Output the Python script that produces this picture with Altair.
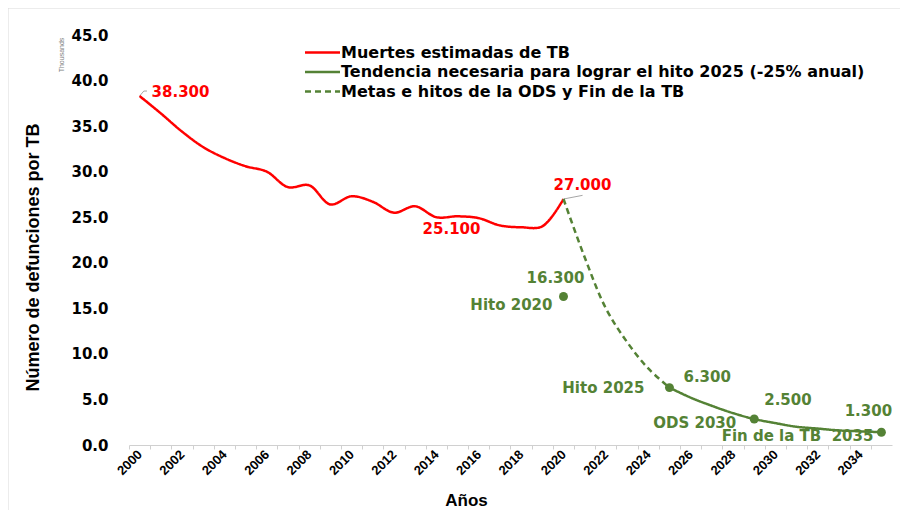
import altair as alt
import pandas as pd

# ---------------- data ----------------
est_years = list(range(2000, 2021))
est_deaths = [38.3, 36.4, 34.4, 32.7, 31.5, 30.6, 30.0, 28.3, 28.5, 26.4, 27.3,
              26.7, 25.5, 26.2, 25.0, 25.1, 24.9, 24.1, 23.9, 24.0, 27.0]

dash_years = list(range(2020, 2026))
dash_deaths = [27.0, 20.6, 15.0, 11.3, 8.4, 6.3]

trend_years = list(range(2025, 2036))
trend_deaths = [6.3, 5.2, 4.3, 3.5, 2.85, 2.4, 2.0, 1.8, 1.6, 1.5, 1.4]

mil_years = [2020, 2025, 2029, 2035]
mil_values = [16.3, 6.3, 2.85, 1.4]

series_names = [
    "Muertes estimadas de TB",
    "Tendencia necesaria para lograr el hito 2025 (-25% anual)",
    "Metas e hitos de la ODS y Fin de la TB",
]

ann_texts = ["38.300", "25.100", "27.000", "16.300", "Hito 2020", "Hito 2025",
             "6.300", "2.500", "ODS 2030", "Fin de la TB\u00a0 2035", "1.300"]
ann_years = [2000, 2015, 2020, 2020, 2020, 2025, 2025, 2029, 2029, 2035, 2035]
ann_values = [38.3, 25.1, 27.0, 16.3, 16.3, 6.3, 6.3, 2.85, 2.85, 1.4, 1.4]

leader_id = ["a", "a", "a", "b", "b"]
leader_years = [2000, 2000.2, 2000.35, 2020, 2020.9]
leader_values = [38.3, 38.85, 38.85, 27.0, 27.4]

y_ticks = [0, 5, 10, 15, 20, 25, 30, 35, 40, 45]
x_ticks = list(range(2000, 2036))

# ---------------- styles ----------------
RED = "#FF0000"
GREEN = "#548235"
NARROW = "Liberation Sans"
WIDE = "DejaVu Sans"

W, H = 763, 410
step = W / 36.0

lines_df = pd.concat([
    pd.DataFrame({"year": est_years, "deaths": est_deaths, "serie": series_names[0]}),
    pd.DataFrame({"year": trend_years, "deaths": trend_deaths, "serie": series_names[1]}),
    pd.DataFrame({"year": dash_years, "deaths": dash_deaths, "serie": series_names[2]}),
], ignore_index=True)

x_enc = alt.X(
    "year:Q",
    scale=alt.Scale(domain=[1999.5, 2035.5], nice=False, zero=False),
    axis=alt.Axis(
        values=x_ticks, format="d",
        labelExpr="datum.value % 2 === 0 ? datum.label : ''",
        labelAngle=-45, labelAlign="right", labelBaseline="middle",
        labelFont=NARROW, labelFontSize=13, labelFontWeight="bold", labelColor="#000000",
        labelOverlap=False, labelBound=False, labelPadding=3,
        tickOffset=-step / 2, labelOffset=step / 2, tickSize=4,
        tickColor="#D0D0D0", domainColor="#D0D0D0", grid=False,
        title="Años", titleFont=NARROW, titleFontSize=17, titleFontWeight="bold",
        titleColor="#000000", titleX=337, titleY=55, titleAlign="center",
        titleBaseline="middle",
    ),
)
y_enc = alt.Y(
    "deaths:Q",
    scale=alt.Scale(domain=[0, 45], nice=False),
    axis=alt.Axis(
        values=y_ticks, format=".1f", domain=False, ticks=False, grid=False,
        labelFont=WIDE, labelFontSize=15, labelFontWeight="bold", labelColor="#000000",
        labelPadding=21,
        title="Número de defunciones por TB", titleFont=NARROW, titleFontSize=18,
        titleFontWeight="bold", titleColor="#000000", titleAngle=270,
        titleX=-96, titleY=222, titleAlign="center", titleBaseline="middle",
    ),
)

series_colors = [RED, GREEN, GREEN]
series_dashes = [[1, 0], [1, 0], [6, 4]]

lines = alt.Chart(lines_df).mark_line(strokeWidth=2.5, interpolate="catmull-rom").encode(
    x=x_enc, y=y_enc,
    color=alt.Color("serie:N", scale=alt.Scale(domain=series_names, range=series_colors),
                    legend=None),
    strokeDash=alt.StrokeDash("serie:N",
                              scale=alt.Scale(domain=series_names, range=series_dashes),
                              legend=None),
)

points = alt.Chart(pd.DataFrame({"year": mil_years, "deaths": mil_values})).mark_circle(
    size=80, color=GREEN, opacity=1).encode(x=x_enc, y=y_enc)

leaders = alt.Chart(pd.DataFrame({"year": leader_years, "deaths": leader_values, "id": leader_id})).mark_line(
    color="#A6A6A6", strokeWidth=1).encode(x=x_enc, y=y_enc, detail="id:N")

# label offsets/styles (dx, dy, align, colour)
ann_style = [
    (12, -4, "left", RED), (-6, 13, "center", RED), (19, -14, "center", RED),
    (-8, -18, "center", GREEN), (-11, 9, "right", GREEN), (-25, 0, "right", GREEN),
    (14, -11, "left", GREEN), (10, -19, "left", GREEN), (-18, 4, "right", GREEN),
    (-8, 4, "right", GREEN), (-13, -21, "center", GREEN),
]
texts = []
for t, yr, v, (dx, dy, al, col) in zip(ann_texts, ann_years, ann_values, ann_style):
    texts.append(
        alt.Chart(pd.DataFrame({"year": [yr], "deaths": [v], "t": [t]})).mark_text(
            dx=dx, dy=dy, align=al, baseline="middle", font=WIDE, fontSize=15,
            fontWeight="bold", color=col).encode(x=x_enc, y=y_enc, text="t:N")
    )

# legend (drawn in pixel space at the top of the plot)
legend_layers = []
for i, (name, col, dash) in enumerate(zip(series_names, series_colors, series_dashes)):
    ly = 17.5 + i * 19.5
    legend_layers.append(
        alt.Chart(pd.DataFrame({"k": [0]})).mark_rule(
            color=col, strokeWidth=2.5, strokeDash=dash).encode(
            x=alt.value(176), x2=alt.value(211), y=alt.value(ly))
    )
    legend_layers.append(
        alt.Chart(pd.DataFrame({"t": [name]})).mark_text(
            align="left", baseline="middle", font=WIDE, fontSize=16, fontWeight="bold",
            color="#000000").encode(text="t:N", x=alt.value(212), y=alt.value(ly))
    )

thousands = alt.Chart(pd.DataFrame({"t": ["Thousands"]})).mark_text(
    angle=270, fontSize=7, color="#808080", font="Liberation Sans", baseline="middle"
).encode(text="t:N", x=alt.value(-67), y=alt.value(20))

border = alt.Chart(pd.DataFrame({"k": [0]})).mark_rule(color="#D9D9D9", strokeWidth=1).encode(
    x=alt.value(-121), x2=alt.value(771), y=alt.value(-27))
border2 = alt.Chart(pd.DataFrame({"k": [0]})).mark_rule(color="#D9D9D9", strokeWidth=1).encode(
    x=alt.value(-121), y=alt.value(-27), y2=alt.value(475))

chart = alt.layer(border, border2, leaders, lines, points, *texts, *legend_layers, thousands).properties(
    width=W, height=H,
    padding={"left": 121, "top": 27, "right": 8, "bottom": 65},
    autosize=alt.AutoSizeParams(type="none"),
).configure_view(stroke=None)

chart.save("out.html", embed_options={"renderer": "svg", "actions": False})
